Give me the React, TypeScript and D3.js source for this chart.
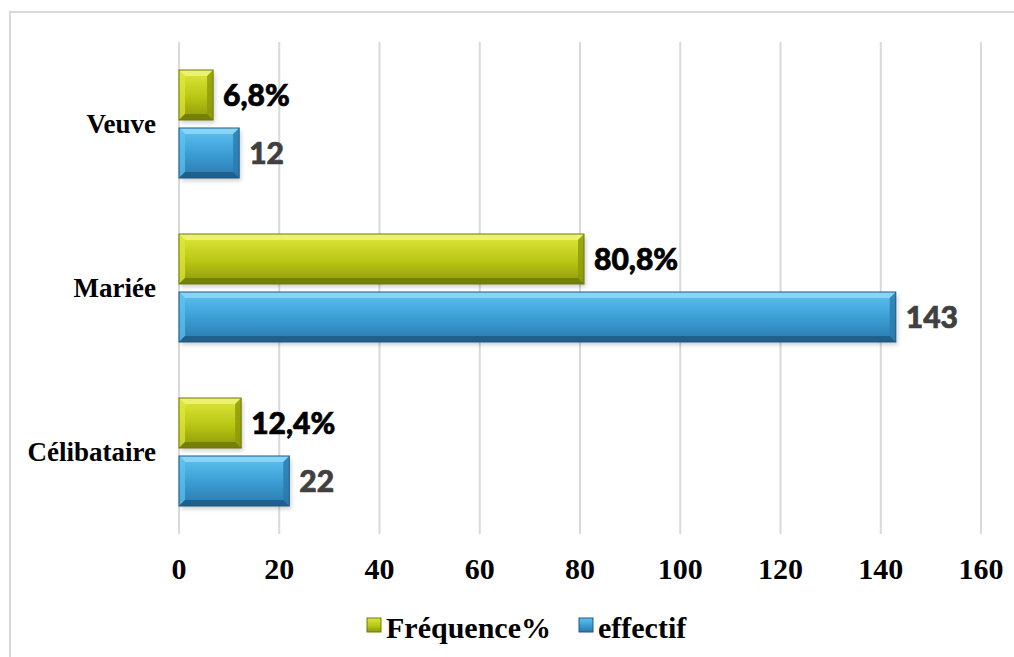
import * as d3 from 'd3';

const categories = ['Célibataire', 'Mariée', 'Veuve'];
const frequence = [12.4, 80.8, 6.8];
const effectif = [22, 143, 12];
const freqLabels = ['12,4%', '80,8%', '6,8%'];
const effLabels = ['22', '143', '12'];
const xTicks = [0, 20, 40, 60, 80, 100, 120, 140, 160];

const W = 1014;
const H = 657;

const palette = {
  freq: { light: '#dfe83a', mid: '#b8c614', dark: '#8c990a', edgeTop: '#eef57a', edgeBot: '#6f7a06', text: '#000000' },
  eff: { light: '#5ec3f0', mid: '#3a9bd2', dark: '#2a79ad', edgeTop: '#8fd8f8', edgeBot: '#1d5a85', text: '#404040' },
};

function Bar({ x0, x1, y, h, c, id }: { x0: number; x1: number; y: number; h: number; c: typeof palette.freq; id: string }) {
  const w = x1 - x0;
  const b = Math.min(6, w / 3);
  const xr = x0 + w;
  const yb = y + h;
  return (
    <g>
      <rect x={x0 + 2} y={y + 3} width={w} height={h} fill="#000" opacity={0.18} filter="url(#blur)" />
      <rect x={x0} y={y} width={w} height={h} fill={`url(#g-${id})`} />
      <polygon points={`${x0},${y} ${xr},${y} ${xr - b},${y + b} ${x0 + b},${y + b}`} fill={c.edgeTop} opacity={0.85} />
      <polygon points={`${x0},${y} ${x0 + b},${y + b} ${x0 + b},${yb - b} ${x0},${yb}`} fill={c.light} opacity={0.7} />
      <polygon points={`${xr},${y} ${xr},${yb} ${xr - b},${yb - b} ${xr - b},${y + b}`} fill={c.dark} opacity={0.8} />
      <polygon points={`${x0},${yb} ${xr},${yb} ${xr - b},${yb - b} ${x0 + b},${yb - b}`} fill={c.edgeBot} opacity={0.85} />
      <rect x={x0} y={y} width={w} height={h} fill="none" stroke={c.edgeBot} strokeWidth={1} />
    </g>
  );
}

export default function App() {
  const x = d3.scaleLinear().domain([0, 160]).range([179, 981]);
  const y = d3.scaleBand<string>().domain([...categories].reverse()).range([42, 534]);
  const ySeries = d3.scaleBand<string>().domain(['freq', 'eff']).range([0, y.bandwidth()]).paddingInner(0.138).paddingOuter(0.483);

  const serif = '"Liberation Serif", "Times New Roman", serif';
  const sans = 'Lato, "Open Sans", sans-serif';

  return (
    <svg width={W} height={H} style={{ position: 'absolute', left: 0, top: 0, background: '#fff' }}>
      <defs>
        <filter id="blur" x="-10%" y="-30%" width="120%" height="160%">
          <feGaussianBlur stdDeviation={2} />
        </filter>
        {(['freq', 'eff'] as const).map((k) => (
          <linearGradient key={k} id={`g-${k}`} x1="0" y1="0" x2="0" y2="1">
            <stop offset="0%" stopColor={palette[k].light} />
            <stop offset="55%" stopColor={palette[k].mid} />
            <stop offset="100%" stopColor={palette[k].dark} />
          </linearGradient>
        ))}
      </defs>
      <rect x={10} y={12} width={W + 20} height={H + 20} fill="none" stroke="#d9d9d9" strokeWidth={2} />

      {xTicks.map((t) => (
        <line key={t} x1={x(t)} x2={x(t)} y1={42} y2={534} stroke="#d9d9d9" strokeWidth={2} />
      ))}

      {categories.map((cat, i) => {
        const y0 = y(cat)!;
        const yf = y0 + ySeries('freq')!;
        const ye = y0 + ySeries('eff')!;
        const bh = ySeries.bandwidth();
        return (
          <g key={cat}>
            <Bar x0={x(0)} x1={x(frequence[i])} y={yf} h={bh} c={palette.freq} id="freq" />
            <Bar x0={x(0)} x1={x(effectif[i])} y={ye} h={bh} c={palette.eff} id="eff" />
            <text x={x(frequence[i]) + 10} y={yf + bh / 2} dy="0.36em" fontSize={30} fontFamily={sans} fontWeight={900}
              fill={palette.freq.text} stroke={palette.freq.text} strokeWidth={0.7}>
              {freqLabels[i]}
            </text>
            <text x={x(effectif[i]) + 10} y={ye + bh / 2} dy="0.36em" fontSize={30} fontFamily={sans} fontWeight={900}
              fill={palette.eff.text} stroke={palette.eff.text} strokeWidth={0.7}>
              {effLabels[i]}
            </text>
            <text x={156} y={y0 + y.bandwidth() / 2} dy="0.33em" textAnchor="end" fontSize={27} fontFamily={serif} fontWeight="bold" fill="#000">
              {cat}
            </text>
          </g>
        );
      })}

      {xTicks.map((t) => (
        <text key={t} x={x(t)} y={579} textAnchor="middle" fontSize={30} fontFamily={serif} fontWeight="bold" fill="#000">
          {t}
        </text>
      ))}

      <g>
        <rect x={367} y={618} width={14} height={14} fill="url(#g-freq)" stroke={palette.freq.edgeBot} strokeWidth={1} />
        <text x={386} y={638} fontSize={30} fontFamily={serif} fontWeight="bold" fill="#000">Fréquence%</text>
        <rect x={579} y={618} width={14} height={14} fill="url(#g-eff)" stroke={palette.eff.edgeBot} strokeWidth={1} />
        <text x={598} y={638} fontSize={30} fontFamily={serif} fontWeight="bold" fill="#000">effectif</text>
      </g>
    </svg>
  );
}
